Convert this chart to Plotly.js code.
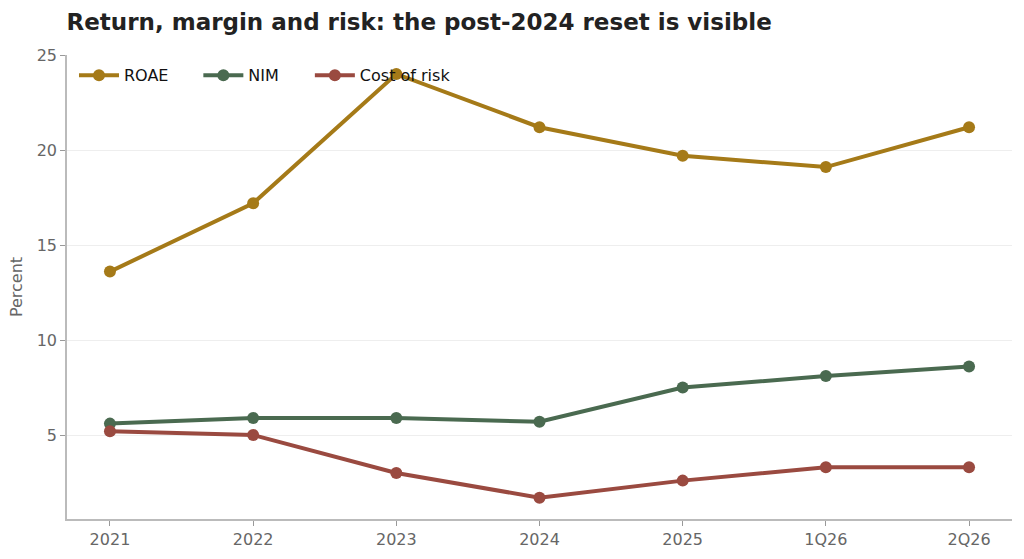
<!DOCTYPE html>
<html>
<head>
<meta charset="utf-8">
<script src="https://cdn.plot.ly/plotly-3.0.1.min.js"></script>
<style>html,body{margin:0;padding:0;background:#fff}#chart{width:1024px;height:559px}</style>
</head>
<body>
<div id="chart"></div>
<script>
const periods = ['2021','2022','2023','2024','2025','1Q26','2Q26'];
const roae = [13.6, 17.2, 24.0, 21.2, 19.7, 19.1, 21.2];
const nim = [5.6, 5.9, 5.9, 5.7, 7.5, 8.1, 8.6];
const costOfRisk = [5.2, 5.0, 3.0, 1.7, 2.6, 3.3, 3.3];
const yTicks = [5, 10, 15, 20, 25];

const font = 'DejaVu Sans, sans-serif';
function series(name, y, color, legend){
  return { type:'scatter', mode:'lines+markers', name, x:periods, y, legend,
    line:{ color, width:4 }, marker:{ color, size:12 } };
}
const traces = [
  series('ROAE', roae, '#A57A18', 'legend'),
  series('NIM', nim, '#4A6A50', 'legend2'),
  series('Cost of risk', costOfRisk, '#9A4A40', 'legend3')
];
function leg(x){
  return { orientation:'h', x, y:0.993, xanchor:'left', yanchor:'top', bgcolor:'rgba(0,0,0,0)', font:{ size:16, color:'#111' }, itemwidth:40 };
}
const layout = {
  width:1024, height:559,
  margin:{ l:67, r:12, t:55, b:40 },
  paper_bgcolor:'#fff', plot_bgcolor:'#fff',
  font:{ family:font, size:16, color:'#666' },
  title:{ text:'<b>Return, margin and risk: the post-2024 reset is visible</b>', x:0.065, xanchor:'left', y:0.976, yanchor:'top', font:{ family:font, size:23, color:'#222' } },
  xaxis:{ type:'category', range:[-0.3, 6.3], showline:true, linecolor:'#bbb', linewidth:1.5, ticks:'outside', ticklen:5, tickcolor:'#999', showgrid:false, zeroline:false, tickfont:{ size:16, color:'#666' } },
  yaxis:{ range:[0.58, 25], tickvals:yTicks, showline:true, linecolor:'#bbb', linewidth:1.5, ticks:'outside', ticklen:5, tickcolor:'#999', gridcolor:'#eee', gridwidth:1, zeroline:false, tickfont:{ size:16, color:'#666' },
    title:{ text:'Percent', standoff:10, font:{ size:16, color:'#666' } } },
  showlegend:true,
  legend:leg(0.0074),
  legend2:leg(0.139),
  legend3:leg(0.257)
};
Plotly.newPlot('chart', traces, layout, { displayModeBar:false, responsive:false });
</script>
</body>
</html>
